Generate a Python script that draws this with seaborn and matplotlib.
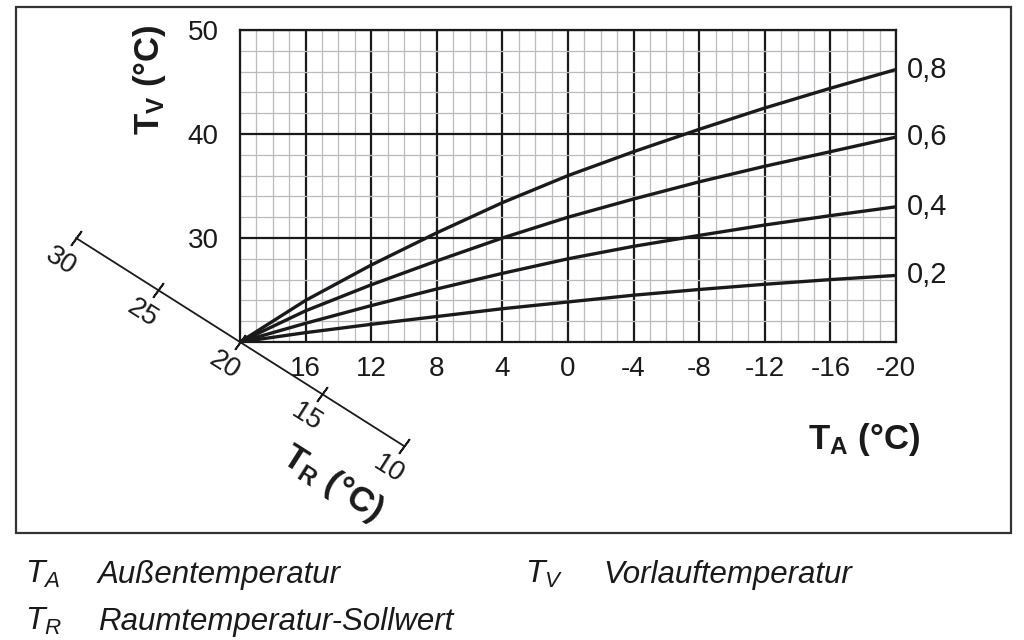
import numpy as np
import pandas as pd
import matplotlib
matplotlib.use("Agg")
import matplotlib.pyplot as plt
from matplotlib.ticker import MultipleLocator
from matplotlib.patches import Rectangle
import seaborn as sns

# outside temperature T_A (x axis, reversed)
ta = [20, 16, 12, 8, 4, 0, -4, -8, -12, -16, -20]
# flow temperature T_V for each heating curve slope
tv_08 = [20, 24.0, 27.4, 30.5, 33.4, 36.0, 38.3, 40.45, 42.5, 44.4, 46.2]
tv_06 = [20, 23.0, 25.5, 27.8, 30.0, 32.0, 33.75, 35.4, 36.9, 38.3, 39.7]
tv_04 = [20, 21.8, 23.5, 25.1, 26.6, 28.0, 29.2, 30.25, 31.25, 32.15, 33.0]
tv_02 = [20, 20.9, 21.7, 22.45, 23.2, 23.85, 24.5, 25.05, 25.55, 26.0, 26.4]
slopes = ["0,8", "0,6", "0,4", "0,2"]
curves = [tv_08, tv_06, tv_04, tv_02]
# room temperature set point T_R (diagonal scale)
tr_ticks = [30, 25, 20, 15, 10]

df = pd.concat(
    [pd.DataFrame({"TA": ta, "TV": c, "slope": s}) for s, c in zip(slopes, curves)],
    ignore_index=True,
)

sns.set_style("white")
plt.rcParams["font.family"] = ["Liberation Sans", "DejaVu Sans"]
plt.rcParams["mathtext.fontset"] = "custom"
plt.rcParams["mathtext.rm"] = "Liberation Sans"
plt.rcParams["mathtext.bf"] = "Liberation Sans:bold"
plt.rcParams["mathtext.it"] = "Liberation Sans:italic"

ink = "#1a1a1a"
fig = plt.figure(figsize=(10.24, 6.4), dpi=100)
ax = fig.add_axes([240 / 1024, 1 - 342 / 640, 656 / 1024, 312 / 640])

sns.lineplot(
    data=df, x="TA", y="TV", hue="slope", palette=[ink] * 4,
    estimator=None, sort=False, legend=False, linewidth=2.4, ax=ax,
)

ax.set_xlim(20, -20)
ax.set_ylim(20, 50)
ax.set_xticks([16, 12, 8, 4, 0, -4, -8, -12, -16, -20])
ax.set_xticklabels(["16", "12", "8", "4", "0", "-4", "-8", "-12", "-16", "-20"])
ax.set_yticks([30, 40, 50])
ax.xaxis.set_minor_locator(MultipleLocator(1))
ax.yaxis.set_minor_locator(MultipleLocator(2))
ax.grid(which="minor", color="#b8bcc0", linewidth=0.9)
ax.grid(which="major", color=ink, linewidth=1.6)
ax.set_axisbelow(True)
for sp in ax.spines.values():
    sp.set_color(ink)
    sp.set_linewidth(1.6)
ax.tick_params(axis="x", which="major", length=7, width=1.5, color=ink,
               labelsize=20, labelcolor=ink, pad=3)
ax.tick_params(axis="y", which="major", length=11.5, width=1.5, color=ink,
               labelsize=20, labelcolor=ink, pad=4)
ax.tick_params(which="minor", length=0)
ax.set_xlabel("")
ax.set_ylabel("")

# slope labels at the curve ends
for s, c in zip(slopes, curves):
    ax.annotate(s, xy=(ta[-1], c[-1]), xytext=(8, 0), textcoords="offset points",
                ha="left", va="center", fontsize=21, color=ink, annotation_clip=False)

# diagonal T_R scale (T_R value t sits at data point (t, t))
ax.plot([tr_ticks[0], tr_ticks[-1]], [tr_ticks[0], tr_ticks[-1]], color=ink,
        linewidth=1.3, clip_on=False)
ax.plot(tr_ticks, tr_ticks, linestyle="none", marker=(2, 2, -36), markersize=13,
        markeredgewidth=1.3, color=ink, clip_on=False)
for t in tr_ticks:
    ax.annotate(str(t), xy=(t, t), xytext=(-11, -17), textcoords="offset points",
                ha="center", va="center", rotation=-32.4, rotation_mode="anchor",
                fontsize=20, color=ink, annotation_clip=False)

# axis titles
fig.text(864 / 1024, 1 - 440 / 640, r"$\mathbf{T_A}$ (°C)", fontsize=25,
         fontweight="bold", ha="center", va="center", color=ink)
fig.text(150 / 1024, 1 - 80 / 640, r"$\mathbf{T_V}$ (°C)", fontsize=25,
         fontweight="bold", ha="center", va="center", rotation=90, color=ink)
fig.text(332 / 1024, 1 - 483 / 640, r"$\mathbf{T_R}$ (°C)", fontsize=25,
         fontweight="bold", ha="center", va="center", rotation=-32.4,
         rotation_mode="anchor", color=ink)

# frame around the diagram
fig.patches.append(Rectangle((16 / 1024, 1 - 533 / 640), 995 / 1024, 526 / 640,
                             transform=fig.transFigure, fill=False,
                             edgecolor="#333333", linewidth=1.6))

# symbol explanations
legend_rows = [
    (25, 98, 583, r"$\mathit{T_A}$", "Außentemperatur"),
    (25, 98, 630, r"$\mathit{T_R}$", "Raumtemperatur-Sollwert"),
    (525, 603, 583, r"$\mathit{T_V}$", "Vorlauftemperatur"),
]
for xs, xt, yb, sym, txt in legend_rows:
    fig.text(xs / 1024, 1 - yb / 640, sym, fontsize=23, va="baseline", color=ink)
    fig.text(xt / 1024, 1 - yb / 640, txt, fontsize=22.5, style="italic",
             va="baseline", color=ink)

fig.savefig("out.png", dpi=100, facecolor="white")
